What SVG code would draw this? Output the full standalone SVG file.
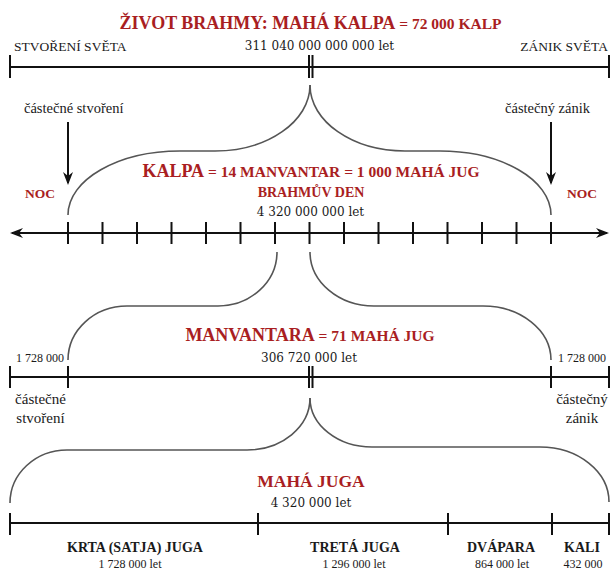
<svg xmlns="http://www.w3.org/2000/svg" width="611" height="570" viewBox="0 0 611 570">
<style>
.red{fill:#a91e22;font-family:"Liberation Serif","Times New Roman",serif;font-weight:bold}
.txt{fill:#1a1a1a;font-family:"Liberation Serif","Times New Roman",serif}
.num{fill:#1a1a1a;font-family:"DejaVu Serif",serif;font-size:12px}
.mid{text-anchor:middle}
.axis{stroke:#111;stroke-width:2;fill:none}
.tick{stroke:#111;stroke-width:2}
.brace{stroke:#555;stroke-width:1.6;fill:none}
.big{font-size:18px}
.sm{font-size:15.5px}
</style>
<defs>
<marker id="arr" viewBox="-12 -6 15 12" refX="0" refY="0" markerWidth="15" markerHeight="12" orient="auto-start-reverse" markerUnits="userSpaceOnUse">
<path d="M2,0 L-11,-5 L-7,0 L-11,5 Z" fill="#111"/>
</marker>
</defs>
<rect width="611" height="570" fill="#fff"/>

<g id="brahma-life">
<text class="red mid" x="310.5" y="29"><tspan class="big">ŽIVOT BRAHMY: MAHÁ KALPA</tspan><tspan class="sm"> = 72 000 KALP</tspan></text>
<text class="txt" x="14" y="51" font-size="13.5">STVOŘENÍ SVĚTA</text>
<text class="num mid" x="319.5" y="50">311 040 000 000 000 let</text>
<text class="txt" x="608" y="51" font-size="13.5" text-anchor="end">ZÁNIK SVĚTA</text>
<line class="axis" x1="10" y1="67" x2="609" y2="67"/>
<line class="tick" x1="10" y1="55" x2="10" y2="78"/>
<line class="tick" x1="609" y1="55" x2="609" y2="78"/>
<line class="tick" x1="309" y1="55" x2="309" y2="78"/>
<line class="tick" x1="312.5" y1="55" x2="312.5" y2="78"/>
</g>

<g id="kalpa">
<text class="txt" x="24" y="113" font-size="14.5">částečné stvoření</text>
<text class="txt" x="590" y="113" font-size="14.5" text-anchor="end">částečný zánik</text>
<text class="red" x="40" y="198" font-size="13.5" text-anchor="middle">NOC</text>
<text class="red" x="582" y="198" font-size="13.5" text-anchor="middle">NOC</text>
<text class="red mid" x="311" y="177"><tspan class="big">KALPA</tspan><tspan class="sm"> = 14 MANVANTAR = 1 000 MAHÁ JUG</tspan></text>
<text class="red mid" x="311" y="197" font-size="14">BRAHMŮV DEN</text>
<text class="num mid" x="310.5" y="216">4 320 000 000 let</text>
<line class="axis" x1="12" y1="233" x2="607" y2="233" marker-start="url(#arr)" marker-end="url(#arr)"/>
<path class="tick" d="M68,222V244 M102.5,222V244 M137,222V244 M171.5,222V244 M206,222V244 M240.5,222V244 M275,222V244 M309.5,222V244 M344,222V244 M378.5,222V244 M413,222V244 M447.5,222V244 M482,222V244 M516.5,222V244 M551,222V244"/>
</g>

<g id="manvantara">
<text class="red mid" x="310" y="341"><tspan class="big">MANVANTARA</tspan><tspan class="sm"> = 71 MAHÁ JUG</tspan></text>
<text class="num mid" x="309" y="362">306 720 000 let</text>
<text class="txt" x="16" y="362" font-size="12">1 728 000</text>
<text class="txt" x="558" y="362" font-size="12">1 728 000</text>
<line class="axis" x1="10" y1="377" x2="609" y2="377"/>
<path class="tick" d="M10,366V388 M68,366V388 M551,366V388 M609,366V388 M309,366V388 M312.5,366V388"/>
<text class="txt mid" x="40.5" y="404" font-size="15">částečné</text>
<text class="txt mid" x="40.5" y="423" font-size="15">stvoření</text>
<text class="txt mid" x="582" y="404" font-size="15">částečný</text>
<text class="txt mid" x="582" y="423" font-size="15">zánik</text>
</g>

<g id="maha-juga">
<text class="red mid" x="311" y="487" font-size="17.5">MAHÁ JUGA</text>
<text class="num mid" x="311" y="507">4 320 000 let</text>
<line class="axis" x1="10" y1="523" x2="609" y2="523"/>
<path class="tick" d="M10,513V535 M258,513V535 M448,513V535 M552,513V535 M609,513V535"/>
<text class="red mid" x="135" y="552" font-size="14" fill="#1a1a1a" style="fill:#1a1a1a">KRTA (SATJA) JUGA</text>
<text class="txt mid" x="130" y="568" font-size="12">1 728 000 let</text>
<text class="red mid" x="355" y="552" font-size="14" style="fill:#1a1a1a">TRETÁ JUGA</text>
<text class="txt mid" x="354" y="568" font-size="12">1 296 000 let</text>
<text class="red mid" x="501" y="552" font-size="14" style="fill:#1a1a1a">DVÁPARA</text>
<text class="txt mid" x="502" y="568" font-size="12">864 000 let</text>
<text class="red mid" x="582" y="552" font-size="14" style="fill:#1a1a1a">KALI</text>
<text class="txt mid" x="583" y="568" font-size="12">432 000</text>
</g>

<g id="connectors">
<line class="axis" x1="68" y1="122" x2="68" y2="183" marker-end="url(#arr)"/>
<line class="axis" x1="551" y1="122" x2="551" y2="183" marker-end="url(#arr)"/>
<path class="brace" d="M68,215 C68,179.7 118.1,151 180,151 L215,151 C267.5,151 310,121.5 310,85"/>
<path class="brace" d="M310,85 C310,121.5 352.5,151 405,151 L440,151 C501.3,151 551,179.7 551,215"/>
<path class="brace" d="M277,252 C277,281.8 250.6,306 218,306 L127,306 C94.4,306 68,330.2 68,360"/>
<path class="brace" d="M310,252 C310,281.8 338.7,306 374,306 L483,306 C520.6,306 551,330.2 551,360"/>
<path class="brace" d="M10,503 C10,473.7 35.5,450 67,450 L247,450 C281.8,450 310,426.7 310,398"/>
<path class="brace" d="M310,398 C310,425.1 337.8,447 372,447 L540,447 C578.1,447 609,471.6 609,502"/>
</g>
</svg>
